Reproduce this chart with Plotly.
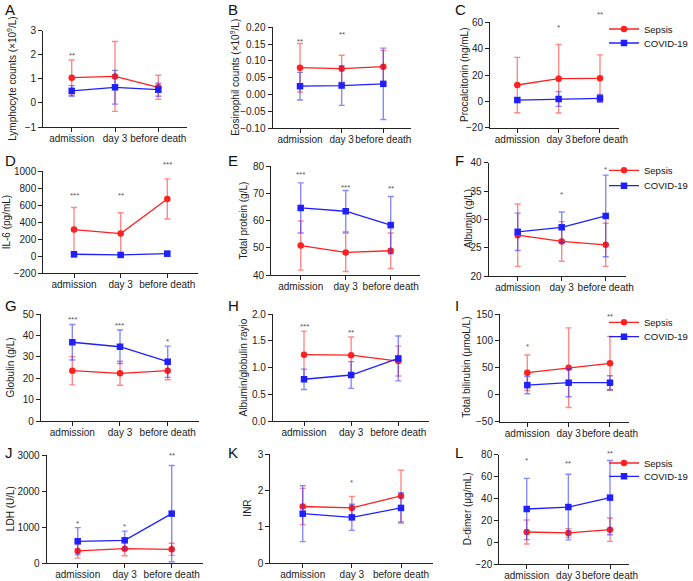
import plotly.graph_objects as go

W, H = 693, 581
categories = ["admission", "day 3", "before death"]
series_names = ["Sepsis", "COVID-19"]

# ---- data (mean and SD) ----
lym_sepsis = [1.05, 1.10, 0.65]; lym_sepsis_sd = [0.73, 1.45, 0.50]
lym_covid = [0.50, 0.65, 0.55]; lym_covid_sd = [0.22, 0.70, 0.27]

eos_sepsis = [0.080, 0.077, 0.083]; eos_sepsis_sd = [0.072, 0.040, 0.048]
eos_covid = [0.025, 0.027, 0.032]; eos_covid_sd = [0.041, 0.059, 0.106]

pct_sepsis = [12.4, 17.2, 17.5]; pct_sepsis_sd = [21.0, 26.0, 17.8]
pct_covid = [1.0, 1.8, 2.3]; pct_covid_sd = [1.5, 5.6, 3.0]

il6_sepsis = [314, 267, 675]; il6_sepsis_sd = [260, 245, 236]
il6_covid = [24, 16, 31]; il6_covid_sd = [30, 12, 30]

tp_sepsis = [50.8, 48.3, 48.9]; tp_sepsis_sd = [9.0, 7.0, 6.5]
tp_covid = [64.6, 63.4, 58.3]; tp_covid_sd = [9.2, 7.6, 10.5]

alb_sepsis = [27.2, 26.1, 25.5]; alb_sepsis_sd = [5.5, 3.5, 3.8]
alb_covid = [27.8, 28.6, 30.6]; alb_covid_sd = [3.3, 2.7, 7.2]

glo_sepsis = [23.5, 22.3, 23.5]; glo_sepsis_sd = [6.6, 5.6, 4.2]
glo_covid = [36.8, 34.7, 27.7]; glo_covid_sd = [8.3, 7.8, 7.3]

agr_sepsis = [1.24, 1.23, 1.12]; agr_sepsis_sd = [0.44, 0.34, 0.28]
agr_covid = [0.78, 0.86, 1.17]; agr_covid_sd = [0.19, 0.25, 0.42]

tbil_sepsis = [41, 50.3, 58.4]; tbil_sepsis_sd = [33, 74, 50]
tbil_covid = [18, 22.4, 22.4]; tbil_covid_sd = [16, 26, 13]

ldh_sepsis = [335, 400, 382]; ldh_sepsis_sd = [200, 200, 170]
ldh_covid = [605, 632, 1375]; ldh_covid_sd = [380, 255, 1340]

inr_sepsis = [1.56, 1.52, 1.85]; inr_sepsis_sd = [0.50, 0.32, 0.71]
inr_covid = [1.36, 1.26, 1.52]; inr_covid_sd = [0.77, 0.36, 0.42]

dd_sepsis = [9.3, 8.4, 11.4]; dd_sepsis_sd = [11.0, 4.0, 10.7]
dd_covid = [30.3, 32.1, 40.7]; dd_covid_sd = [28.0, 30.0, 34.0]

# significance marks
sig_A = ["**", "", ""]
sig_B = ["**", "**", ""]
sig_C = ["", "*", "**"]
sig_D = ["***", "**", "***"]
sig_E = ["***", "***", "**"]
sig_F = ["", "*", "*"]
sig_G = ["***", "***", "*"]
sig_H = ["***", "**", ""]
sig_I = ["*", "", "**"]
sig_J = ["*", "*", "**"]
sig_K = ["", "*", ""]
sig_L = ["*", "**", "**"]

# y ticks
ticks_A = [-1, 0, 1, 2, 3]
ticks_B = [-0.10, -0.05, 0.00, 0.05, 0.10, 0.15, 0.20]
ticks_C = [-20, 0, 20, 40, 60]
ticks_D = [-200, 0, 200, 400, 600, 800, 1000]
ticks_E = [40, 50, 60, 70, 80]
ticks_F = [20, 25, 30, 35, 40]
ticks_G = [0, 10, 20, 30, 40, 50]
ticks_H = [0.0, 0.5, 1.0, 1.5, 2.0]
ticks_I = [-50, 0, 50, 100, 150]
ticks_J = [0, 1000, 2000, 3000]
ticks_K = [0, 1, 2, 3]
ticks_L = [-20, 0, 20, 40, 60, 80]

# ---- layout per panel (pixel geometry) ----
panels = [
    dict(letter="A", title="Lymphocyte counts (×10<sup>9</sup>/L)", s=lym_sepsis, ssd=lym_sepsis_sd, c=lym_covid, csd=lym_covid_sd,
         ticks=ticks_A, fmt="", sig=sig_A, sigy=[53, 0, 0], t0=71.7, t2=158.3, ytop=30.7, ybot=127, tx=12, col=0, row=0, legend=False),
    dict(letter="B", title="Eosinophil counts (×10<sup>9</sup>/L)", s=eos_sepsis, ssd=eos_sepsis_sd, c=eos_covid, csd=eos_covid_sd,
         ticks=ticks_B, fmt=".2f", sig=sig_B, sigy=[39, 32.3, 0], t0=300, t2=383.3, ytop=27.3, ybot=128.3, tx=235, col=1, row=0, legend=False),
    dict(letter="C", title="Procalcitonin (ng/mL)", s=pct_sepsis, ssd=pct_sepsis_sd, c=pct_covid, csd=pct_covid_sd,
         ticks=ticks_C, fmt="", sig=sig_C, sigy=[0, 25, 12.3], t0=517.3, t2=600, ytop=22.3, ybot=127.7, tx=464, col=2, row=0, legend=True, ly=[29, 43]),
    dict(letter="D", title="IL-6 (pg/mL)", s=il6_sepsis, ssd=il6_sepsis_sd, c=il6_covid, csd=il6_covid_sd,
         ticks=ticks_D, fmt="", sig=sig_D, sigy=[192.7, 192.7, 162.3], t0=74, t2=167.3, ytop=171.3, ybot=273.3, tx=6, col=0, row=1, legend=False),
    dict(letter="E", title="Total protein (g/L)", s=tp_sepsis, ssd=tp_sepsis_sd, c=tp_covid, csd=tp_covid_sd,
         ticks=ticks_E, fmt="", sig=sig_E, sigy=[171.7, 185, 185.7], t0=300.7, t2=390.7, ytop=166, ybot=275, tx=243, col=1, row=1, legend=False),
    dict(letter="F", title="Albumin (g/L)", s=alb_sepsis, ssd=alb_sepsis_sd, c=alb_covid, csd=alb_covid_sd,
         ticks=ticks_F, fmt="", sig=sig_F, sigy=[0, 191.7, 167.3], t0=517.7, t2=605.7, ytop=162.7, ybot=276, tx=468, col=2, row=1, legend=True, ly=[170.3, 185.7]),
    dict(letter="G", title="Globulin (g/L)", s=glo_sepsis, ssd=glo_sepsis_sd, c=glo_covid, csd=glo_covid_sd,
         ticks=ticks_G, fmt="", sig=sig_G, sigy=[317.3, 322.7, 339], t0=72.3, t2=167.7, ytop=314, ybot=421, tx=10, col=0, row=2, legend=False),
    dict(letter="H", title="Albumin/globulin rayio", s=agr_sepsis, ssd=agr_sepsis_sd, c=agr_covid, csd=agr_covid_sd,
         ticks=ticks_H, fmt=".1f", sig=sig_H, sigy=[324, 330, 0], t0=304, t2=398.3, ytop=314, ybot=421, tx=243, col=1, row=2, legend=False),
    dict(letter="I", title="Total bilirubin (μmoL/L)", s=tbil_sepsis, ssd=tbil_sepsis_sd, c=tbil_covid, csd=tbil_covid_sd,
         ticks=ticks_I, fmt="", sig=sig_I, sigy=[344, 0, 314], t0=527.3, t2=610, ytop=314, ybot=421.7, tx=467, col=2, row=2, legend=True, ly=[322.3, 336.7]),
    dict(letter="J", title="LDH (U/L)", s=ldh_sepsis, ssd=ldh_sepsis_sd, c=ldh_covid, csd=ldh_covid_sd,
         ticks=ticks_J, fmt="", sig=sig_J, sigy=[521, 523.7, 452.7], t0=77.7, t2=171.7, ytop=455.3, ybot=563, tx=10, col=0, row=3, legend=False),
    dict(letter="K", title="INR", s=inr_sepsis, ssd=inr_sepsis_sd, c=inr_covid, csd=inr_covid_sd,
         ticks=ticks_K, fmt="", sig=sig_K, sigy=[0, 480.3, 0], t0=302.7, t2=401, ytop=454.3, ybot=563, tx=248, col=1, row=3, legend=False),
    dict(letter="L", title="D-dimer (μg/mL)", s=dd_sepsis, ssd=dd_sepsis_sd, c=dd_covid, csd=dd_covid_sd,
         ticks=ticks_L, fmt="", sig=sig_L, sigy=[458, 461, 451], t0=526.7, t2=610, ytop=454.7, ybot=564, tx=467, col=2, row=3, legend=True, ly=[463, 476.3]),
]

letter_x = [3, 226, 453]
letter_y = [10, 160, 305, 452]
legend_text_x = 644  # where legend labels start (px)

RED = "#ff2020"
BLUE = "#2020ff"
RED_EB = "rgba(255,40,40,0.55)"
BLUE_EB = "rgba(40,40,255,0.55)"
FONT = "Liberation Sans, Arial, Helvetica, sans-serif"
AXC = "#222222"

fig = go.Figure()
annotations = []
legend_count = 0
layout_upd = {}

for i, p in enumerate(panels):
    k = i + 1
    xname = "x" if k == 1 else f"x{k}"
    yname = "y" if k == 1 else f"y{k}"
    sp = (p["t2"] - p["t0"]) / 2
    L = 0.66
    R = 0.45 if p["legend"] else 0.66
    left = p["t0"] - L * sp
    right = p["t2"] + R * sp
    ticks = p["ticks"]

    for name, vals, sd, color, eb, sym, lg in [
        (series_names[0], p["s"], p["ssd"], RED, RED_EB, "circle", 0),
        (series_names[1], p["c"], p["csd"], BLUE, BLUE_EB, "square", 1),
    ]:
        tr = dict(
            x=categories, y=vals, name=name, mode="lines+markers",
            xaxis=xname, yaxis=yname,
            line=dict(color=color, width=1.3),
            marker=dict(color=color, symbol=sym, size=6.5),
            error_y=dict(type="data", array=sd, visible=True, color=eb, thickness=1.4, width=3),
            cliponaxis=False,
            showlegend=False,
        )
        if p["legend"]:
            legend_count += 1
            lname = "legend" if legend_count == 1 else f"legend{legend_count}"
            tr["showlegend"] = True
            tr["legend"] = lname
            ly = p["ly"][lg]
            layout_upd[lname] = dict(
                x=(legend_text_x - 40) / W, xanchor="left",
                y=1 - ly / H, yanchor="middle",
                font=dict(family=FONT, size=9.5, color="#111"),
                bgcolor="rgba(0,0,0,0)", borderwidth=0, itemwidth=30,
            )
        fig.add_trace(go.Scatter(**tr))

    xa = dict(
        domain=[left / W, right / W], anchor=yname, type="category",
        range=[-L, 2 + R], showline=True, linecolor=AXC, linewidth=1,
        ticks="outside", ticklen=4, tickcolor=AXC, showgrid=False, zeroline=False,
        tickangle=0, ticklabelstandoff=-2,
        tickfont=dict(family=FONT, size=10, color="#222"),
    )
    ya = dict(
        domain=[1 - p["ybot"] / H, 1 - p["ytop"] / H], anchor=xname,
        range=[ticks[0], ticks[-1]], tickvals=ticks, showline=True, linecolor=AXC,
        linewidth=1, ticks="outside", ticklen=4, tickcolor=AXC, showgrid=False,
        zeroline=False, tickfont=dict(family=FONT, size=10, color="#222"),
    )
    if p["fmt"]:
        ya["tickformat"] = p["fmt"]
    layout_upd["xaxis" if k == 1 else f"xaxis{k}"] = xa
    layout_upd["yaxis" if k == 1 else f"yaxis{k}"] = ya

    # y axis title
    annotations.append(dict(
        text=p["title"], xref="paper", yref="paper",
        x=p["tx"] / W, y=1 - ((p["ytop"] + p["ybot"]) / 2) / H,
        xanchor="center", yanchor="middle", textangle=-90, showarrow=False,
        font=dict(family=FONT, size=10, color="#222"),
    ))
    # panel letter
    annotations.append(dict(
        text=p["letter"], xref="paper", yref="paper",
        x=letter_x[p["col"]] / W, y=1 - letter_y[p["row"]] / H,
        xanchor="left", yanchor="middle", showarrow=False,
        font=dict(family=FONT, size=15, color="#111"),
    ))
    # significance
    for cat, s, sy in zip(categories, p["sig"], p["sigy"]):
        if s:
            annotations.append(dict(
                text=s, xref=xname, yref="paper", x=cat, y=1 - (sy + 2.5) / H,
                xanchor="center", yanchor="middle", showarrow=False,
                font=dict(family=FONT, size=8, color="#555"),
            ))

fig.update_layout(**layout_upd)
fig.update_layout(
    width=W, height=H, margin=dict(l=0, r=0, t=0, b=0, autoexpand=False),
    paper_bgcolor="white", plot_bgcolor="white",
    annotations=annotations,
    font=dict(family=FONT, size=10, color="#222"),
)

fig.write_html(
    "out.html",
    config={"displayModeBar": False},
    post_script="document.body.style.margin='0';document.body.style.overflow='hidden';",
)
